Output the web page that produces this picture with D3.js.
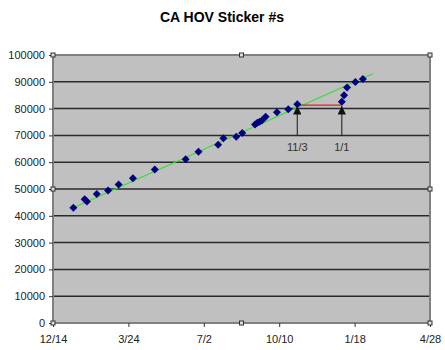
<!DOCTYPE html>
<html>
<head>
<meta charset="utf-8">
<script src="https://cdn.jsdelivr.net/npm/d3@7"></script>
<style>
  body { margin: 0; background: #fff; }
  text { font-family: Arial, "Liberation Sans", sans-serif; }
</style>
</head>
<body>
<script>

// sticker counts
var dates = ['2005-01-10','2005-01-25','2005-01-28','2005-02-10','2005-02-25','2005-03-11',
             '2005-03-30','2005-04-28','2005-06-08','2005-06-25','2005-07-21','2005-07-28',
             '2005-08-14','2005-08-22','2005-09-08','2005-09-11','2005-09-14','2005-09-17',
             '2005-09-22','2005-10-07','2005-10-22','2005-11-03','2006-01-01','2006-01-04',
             '2006-01-08','2006-01-19','2006-01-29'];
var stickers = [43000, 46200, 45300, 48100, 49400, 51700,
                54000, 57300, 61100, 63900, 66500, 68900,
                69500, 70900, 74100, 74700, 75100, 75600,
                77000, 78600, 79800, 81600, 82600, 85000,
                87900, 89900, 91000];

// green trend line, two ends
var trendDates = ['2005-01-10', '2006-02-11'];
var trendValues = [43000, 93000];

// red gap line and the two arrows
var gapDates = ['2005-11-03', '2006-01-01'];
var gapValue = 81300;
var arrowLabels = ['11/3', '1/1'];
var arrowBottom = 70000;

// axes
var xTicks = ['2004-12-14','2005-03-24','2005-07-02','2005-10-10','2006-01-18','2006-04-28'];
var yTicks = [0,10000,20000,30000,40000,50000,60000,70000,80000,90000,100000];

var parse = d3.timeParse('%Y-%m-%d');
var fmt = d3.timeFormat('%-m/%-d');

var margin = {top: 55, right: 15, bottom: 27, left: 53};
var W = 445, H = 350;
var w = W - margin.left - margin.right;
var h = H - margin.top - margin.bottom;

var svg = d3.select('body').append('svg')
            .attr('width', W)
            .attr('height', H);

var x = d3.scaleTime()
          .domain([parse(xTicks[0]), parse(xTicks[xTicks.length - 1])])
          .range([0, w]);
var y = d3.scaleLinear().domain([0, 100000]).range([h, 0]);

svg.append('text')
   .attr('x', 222)
   .attr('y', 22)
   .attr('text-anchor', 'middle')
   .style('font-size', '14px')
   .style('font-weight', 'bold')
   .text('CA HOV Sticker #s');

var g = svg.append('g')
           .attr('transform', 'translate(' + margin.left + ',' + margin.top + ')');

// plot area
g.append('rect')
 .attr('width', w)
 .attr('height', h)
 .attr('fill', '#c0c0c0');

// gridlines
g.selectAll('.grid')
 .data(yTicks.slice(1, -1))
 .enter().append('line')
 .attr('class', 'grid')
 .attr('x1', 0).attr('x2', w)
 .attr('y1', function(d) { return y(d); })
 .attr('y2', function(d) { return y(d); })
 .attr('stroke', '#2a2a2a')
 .attr('stroke-width', 1.5);

g.append('rect')
 .attr('width', w)
 .attr('height', h)
 .attr('fill', 'none')
 .attr('stroke', '#808080')
 .attr('stroke-width', 2);

// y axis
var yAxis = g.append('g')
             .call(d3.axisLeft(y).tickValues(yTicks).tickSize(4).tickPadding(4)
                     .tickFormat(d3.format('d')));
yAxis.select('.domain').remove();
yAxis.selectAll('line').attr('stroke', '#333');
yAxis.selectAll('text')
     .style('font-size', '11px')
     .style('font-family', 'Arial, "Liberation Sans", sans-serif')
     .attr('fill', '#222');

// x axis
var xAxis = g.append('g')
             .attr('transform', 'translate(0,' + h + ')')
             .call(d3.axisBottom(x).tickValues(xTicks.map(parse)).tickSize(4).tickPadding(8)
                     .tickFormat(fmt));
xAxis.select('.domain').remove();
xAxis.selectAll('line').attr('stroke', '#333');
xAxis.selectAll('text')
     .style('font-size', '11px')
     .style('font-family', 'Arial, "Liberation Sans", sans-serif')
     .attr('fill', '#222');

// trend line
var trend = trendDates.map(function(d, i) { return {date: parse(d), value: trendValues[i]}; });
g.append('path')
 .datum(trend)
 .attr('fill', 'none')
 .attr('stroke', '#33e033')
 .attr('stroke-width', 1.3)
 .attr('d', d3.line()
              .x(function(d) { return x(d.date); })
              .y(function(d) { return y(d.value); }));

// red gap line
g.append('line')
 .attr('x1', x(parse(gapDates[0]))).attr('x2', x(parse(gapDates[1])))
 .attr('y1', y(gapValue)).attr('y2', y(gapValue))
 .attr('stroke', '#e02020')
 .attr('stroke-width', 1.2);

// arrows
svg.append('defs').append('marker')
   .attr('id', 'head')
   .attr('viewBox', '0 0 10 10')
   .attr('refX', 10).attr('refY', 5)
   .attr('markerWidth', 7).attr('markerHeight', 7)
   .attr('orient', 'auto')
   .append('path')
   .attr('d', 'M0,0L10,5L0,10Z')
   .attr('fill', '#111');

gapDates.forEach(function(d, i) {
  var ax = x(parse(d));
  g.append('line')
   .attr('x1', ax).attr('x2', ax)
   .attr('y1', y(arrowBottom)).attr('y2', y(gapValue) + 1)
   .attr('stroke', '#333')
   .attr('stroke-width', 1.2)
   .attr('marker-end', 'url(#head)');
  g.append('text')
   .attr('x', ax)
   .attr('y', y(arrowBottom) + 16)
   .attr('text-anchor', 'middle')
   .style('font-size', '11px')
   .attr('fill', '#333')
   .text(arrowLabels[i]);
});

// data points (diamonds)
var pts = dates.map(function(d, i) { return {date: parse(d), value: stickers[i]}; });
g.selectAll('.pt')
 .data(pts)
 .enter().append('path')
 .attr('class', 'pt')
 .attr('transform', function(d) { return 'translate(' + x(d.date) + ',' + y(d.value) + ')'; })
 .attr('d', 'M0,-4L4,0L0,4L-4,0Z')
 .attr('fill', '#000080');

// selection handles on the plot area
var handles = [[0,0],[w/2,0],[w,0],[0,h/2],[w,h/2],[0,h],[w/2,h],[w,h]];
g.selectAll('.handle')
 .data(handles)
 .enter().append('rect')
 .attr('class', 'handle')
 .attr('x', function(d) { return d[0] - 2; })
 .attr('y', function(d) { return d[1] - 2; })
 .attr('width', 4).attr('height', 4)
 .attr('fill', '#ddd')
 .attr('stroke', '#333')
 .attr('stroke-width', 1);

</script>
</body>
</html>
